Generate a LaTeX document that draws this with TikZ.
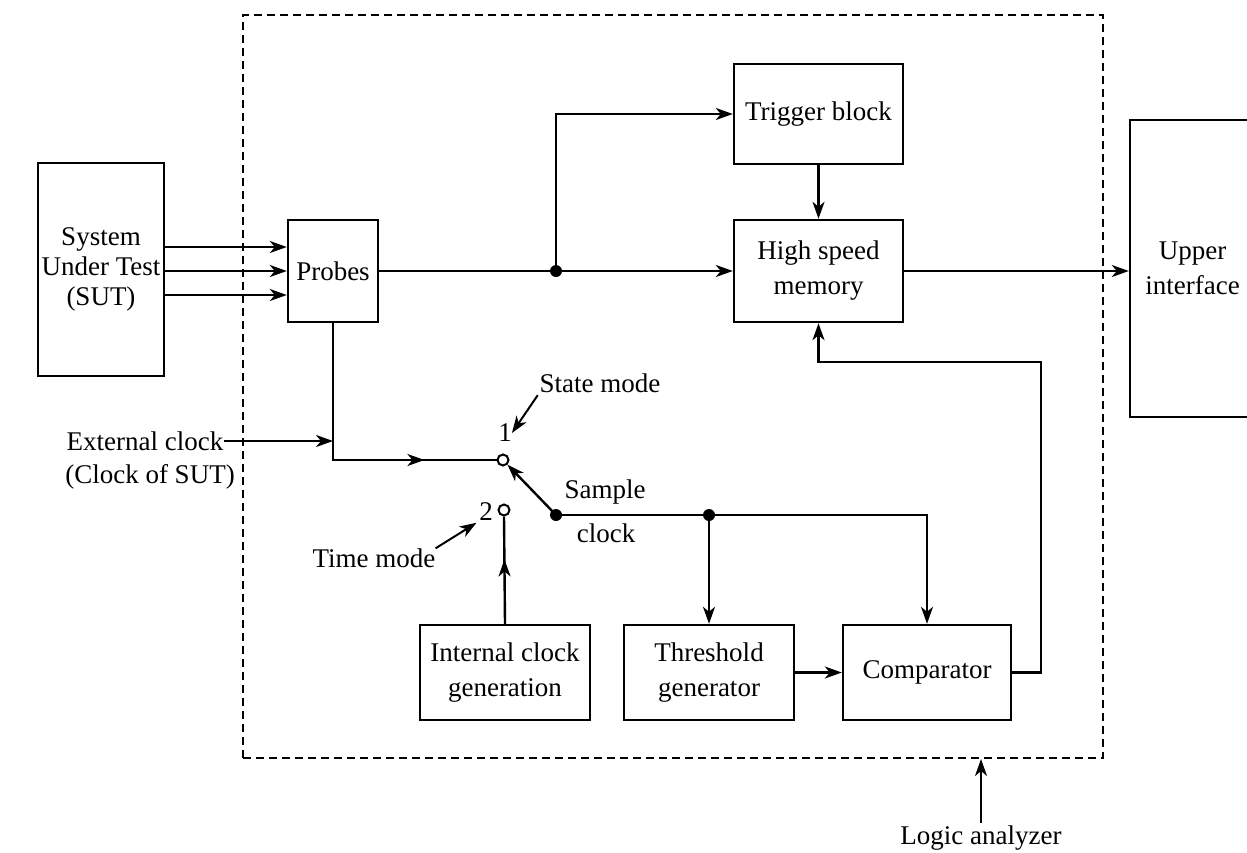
\documentclass[tikz,border=0pt]{standalone}
\usepackage{fontspec}
\setmainfont{Liberation Serif}
\usetikzlibrary{arrows.meta,decorations.markings}
\begin{document}
\begin{tikzpicture}[x=1pt,y=-1pt,
  font=\fontsize{27}{35}\selectfont,
  every node/.style={inner sep=0pt, align=center},
  box/.style={draw, line width=2.4pt},
  arr/.style={line width=2.4pt, -{Stealth[length=17pt,width=12pt,inset=5pt]}},
  midarr/.style={line width=2.4pt, postaction={decorate}, decoration={markings,
     mark=at position #1 with {\arrow{Stealth[length=17pt,width=12pt,inset=5pt]}}}},
  dotc/.style={circle, fill, minimum size=12pt},
  opc/.style={circle, draw, line width=2pt, fill=white, minimum size=11pt}
]
\useasboundingbox (0,0) rectangle (1247,852);
\clip (0,0) rectangle (1247,852);
% dashed enclosure
\node[draw, line width=2pt, dash pattern=on 8pt off 5pt, minimum width=860, minimum height=743] (labox) at (673,386.5) {};
% blocks
\node[box, minimum width=126, minimum height=213, font=\fontsize{27}{30}\selectfont] (sut) at (101,269.5) {System\\Under Test\\(SUT)};
\node[box, minimum width=90, minimum height=102] (probes) at (333,271) {Probes};
\node[box, minimum width=169, minimum height=100] (trig) at (818.5,114) {Trigger block};
\node[box, minimum width=169, minimum height=102] (mem) at (818.5,271) {High speed\\memory};
\node[box, minimum width=125, minimum height=297] (upper) at (1192.5,268.5) {Upper\\interface};
\node[box, minimum width=170, minimum height=95] (intc) at (505,672.5) {Internal clock\\generation};
\node[box, minimum width=170, minimum height=95] (thr) at (709,672.5) {Threshold\\generator};
\node[box, minimum width=168, minimum height=95] (comp) at (927,672.5) {Comparator};
% labels
\node (ext) at (145,441) {External clock};
\node (extb) at (150,477) {(Clock of SUT)};
\node (sm) at (600,383) {State mode};
\node (tm) at (374,558) {Time mode};
\node (samp) at (605,492) {Sample};
\node (clk) at (606,533) {clock};
\node (lab1) at (505,433) {1};
\node (lab2) at (486,512) {2};
\node (la) at (981,838) {Logic analyzer};
% junctions
\node[dotc] (d1) at (556,271) {};
\node[dotc] (swd) at (556,515) {};
\node[dotc] (d2) at (709,515) {};
\node[opc] (c1) at (503,460) {};
\node[opc] (c2) at (504,510) {};
\coordinate (fb) at (1041,362);
% connectors
\draw[arr] ([yshift=24pt]sut.east |- probes.west) -- ([yshift=24pt]probes.west);
\draw[arr] (sut.east |- probes.west) -- (probes.west);
\draw[arr] ([yshift=-24pt]sut.east |- probes.west) -- ([yshift=-24pt]probes.west);
\draw[arr] (probes.east) -- (mem.west);
\draw[arr] (d1.center) |- (trig.west);
\draw[arr] (trig.south) -- (mem.north);
\draw[arr] (mem.east) -- (mem.east -| upper.west);
\draw[midarr=0.76] (probes.south) |- (c1.west);
\draw[arr] (ext.east) -- (ext.east -| probes.south);
\draw[arr] (swd.center) -- (c1);
\draw[arr] (swd.center) -| (comp.north);
\draw[arr] (d2.center) -- (thr.north);
\draw[midarr=0.6] (intc.north) -- (c2.south);
\draw[arr] (thr.east) -- (comp.west);
\draw[arr] (comp.east) -| (fb) -| (mem.south);
\draw[arr, line width=2pt, shorten <=3pt] (sm.south west) -- (lab1.east);
\draw[arr, line width=2pt, shorten >=3pt] (tm.north east) -- (lab2.south west);
\draw[arr, line width=2pt, shorten <=3pt] (la.north) -- (la.north |- labox.south);
\end{tikzpicture}
\end{document}
